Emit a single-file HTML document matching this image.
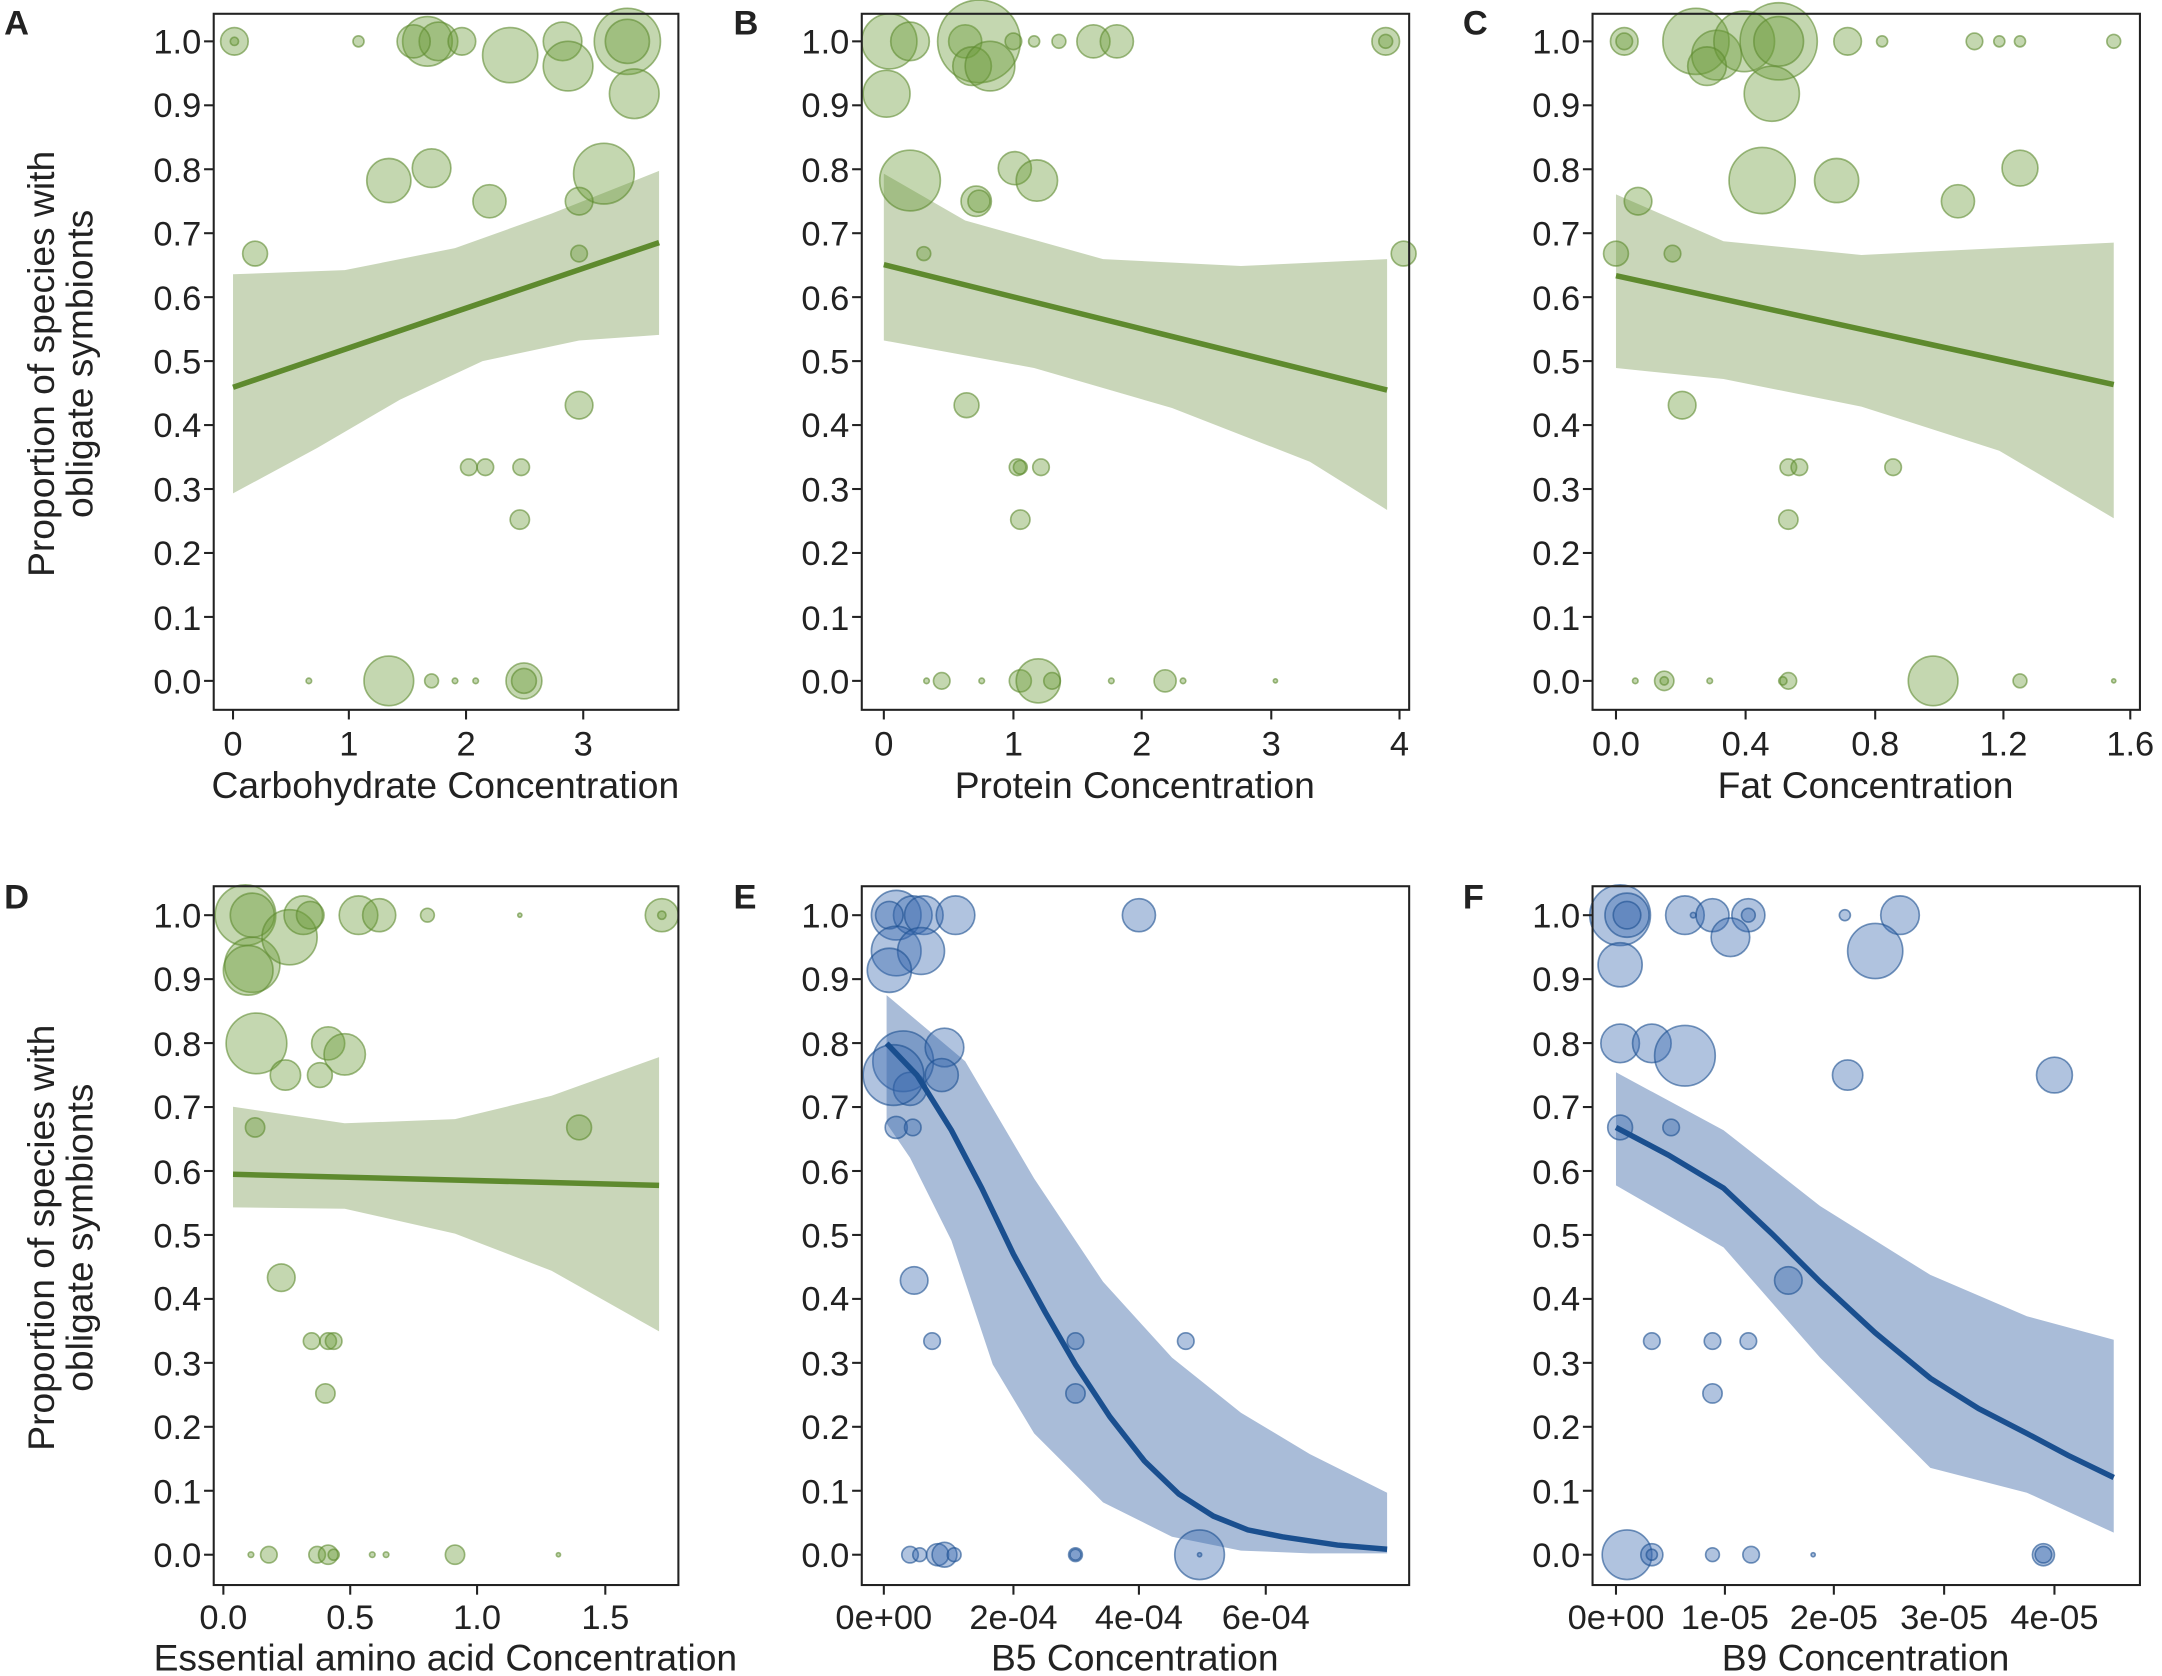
<!DOCTYPE html>
<html><head><meta charset="utf-8">
<style>
html,body{margin:0;padding:0;background:#fff;}
svg{display:block;}
text{font-family:"Liberation Sans",sans-serif;fill:#222;}
</style></head>
<body>
<svg id="s" width="2162" height="1676" viewBox="0 0 1568 1216" preserveAspectRatio="none" xmlns="http://www.w3.org/2000/svg">
<rect width="1568" height="1216" fill="#fff"/>
<polygon fill="#c9d6b9" points="169,199 250,196 330,180 400,155 478,124 478,243 420,247 350,262 290,290 230,325 169,358"/>
<polygon fill="#c9d6b9" points="641,126 700,160 800,188 900,193 1006,188 1006,370 950,335 850,296 750,267 641,247"/>
<polygon fill="#c9d6b9" points="1172,141 1250,175 1350,185 1450,180 1533,176 1533,376 1450,327 1350,295 1250,275 1172,267"/>
<polygon fill="#c9d6b9" points="169,803 250,815 330,812 400,795 478,767 478,966 400,922 330,895 250,877 169,876"/>
<polygon fill="#a9bcd8" points="643,722 700,770 750,855 800,930 850,985 900,1025 950,1055 1006,1083 1006,1127 950,1127 900,1125 850,1115 800,1090 750,1040 720,990 690,900 660,840 643,815"/>
<polygon fill="#a9bcd8" points="1172,778 1250,820 1320,875 1400,925 1470,955 1533,972 1533,1112 1470,1083 1400,1065 1320,985 1250,905 1172,860"/>
<g id="pts"></g>
<g fill="none" stroke-width="4">
<line x1="169" y1="281" x2="478" y2="176" stroke="#5e8a2e"/>
<line x1="641" y1="192" x2="1006" y2="283" stroke="#5e8a2e"/>
<line x1="1172" y1="200" x2="1533" y2="279" stroke="#5e8a2e"/>
<line x1="169" y1="852" x2="478" y2="860" stroke="#5e8a2e"/>
<polyline stroke="#1a4f8f" points="643,757 665,780 690,820 712,862 735,910 758,952 780,990 805,1028 830,1060 855,1084 880,1100 905,1110 930,1115 970,1121 1006,1124"/>
<polyline stroke="#1a4f8f" points="1172,818 1210,838 1250,862 1285,895 1320,930 1360,967 1400,1000 1435,1022 1470,1040 1500,1056 1533,1072"/>
</g>
<g fill="none" stroke="#222" stroke-width="1.5">
<rect x="155" y="10" width="337" height="505"/>
<rect x="625" y="10" width="397" height="505"/>
<rect x="1155" y="10" width="397" height="505"/>
<rect x="155" y="643" width="337" height="507"/>
<rect x="625" y="643" width="397" height="507"/>
<rect x="1155" y="643" width="397" height="507"/>
</g>
<g id="ticks" stroke="#222" stroke-width="1.5"></g>
<g font-size="25" text-anchor="middle">
<text x="169" y="548">0</text><text x="253" y="548">1</text><text x="338" y="548">2</text><text x="423" y="548">3</text>
<text x="641" y="548">0</text><text x="735" y="548">1</text><text x="828" y="548">2</text><text x="922" y="548">3</text><text x="1015" y="548">4</text>
<text x="1172" y="548">0.0</text><text x="1266" y="548">0.4</text><text x="1360" y="548">0.8</text><text x="1453" y="548">1.2</text><text x="1545" y="548">1.6</text>
<text x="162" y="1182">0.0</text><text x="254" y="1182">0.5</text><text x="346" y="1182">1.0</text><text x="439" y="1182">1.5</text>
<text x="641" y="1182">0e+00</text><text x="735" y="1182">2e-04</text><text x="826" y="1182">4e-04</text><text x="918" y="1182">6e-04</text>
<text x="1172" y="1182">0e+00</text><text x="1251" y="1182">1e-05</text><text x="1330" y="1182">2e-05</text><text x="1410" y="1182">3e-05</text><text x="1490" y="1182">4e-05</text>
</g>
<g font-size="27" text-anchor="middle">
<text x="323" y="579">Carbohydrate Concentration</text>
<text x="823" y="579">Protein Concentration</text>
<text x="1353" y="579">Fat Concentration</text>
<text x="323" y="1212">Essential amino acid Concentration</text>
<text x="823" y="1212">B5 Concentration</text>
<text x="1353" y="1212">B9 Concentration</text>
<text transform="translate(39,264) rotate(-90)">Proportion of species with</text>
<text transform="translate(67,264) rotate(-90)">obligate symbionts</text>
<text transform="translate(39,898) rotate(-90)">Proportion of species with</text>
<text transform="translate(67,898) rotate(-90)">obligate symbionts</text>
</g>
<g font-size="25" font-weight="bold">
<text x="3" y="25">A</text><text x="532" y="25">B</text><text x="1061" y="25">C</text>
<text x="3" y="659">D</text><text x="532" y="659">E</text><text x="1061" y="659">F</text>
</g>
<g font-size="25" text-anchor="end">
<text x="146" y="39">1.0</text><text x="146" y="85">0.9</text><text x="146" y="132">0.8</text><text x="146" y="178">0.7</text><text x="146" y="225">0.6</text><text x="146" y="271">0.5</text><text x="146" y="317">0.4</text><text x="146" y="364">0.3</text><text x="146" y="410">0.2</text><text x="146" y="457">0.1</text><text x="146" y="503">0.0</text>
<text x="616" y="39">1.0</text><text x="616" y="85">0.9</text><text x="616" y="132">0.8</text><text x="616" y="178">0.7</text><text x="616" y="225">0.6</text><text x="616" y="271">0.5</text><text x="616" y="317">0.4</text><text x="616" y="364">0.3</text><text x="616" y="410">0.2</text><text x="616" y="457">0.1</text><text x="616" y="503">0.0</text>
<text x="1146" y="39">1.0</text><text x="1146" y="85">0.9</text><text x="1146" y="132">0.8</text><text x="1146" y="178">0.7</text><text x="1146" y="225">0.6</text><text x="1146" y="271">0.5</text><text x="1146" y="317">0.4</text><text x="1146" y="364">0.3</text><text x="1146" y="410">0.2</text><text x="1146" y="457">0.1</text><text x="1146" y="503">0.0</text>
<text x="146" y="673">1.0</text><text x="146" y="719">0.9</text><text x="146" y="766">0.8</text><text x="146" y="812">0.7</text><text x="146" y="859">0.6</text><text x="146" y="905">0.5</text><text x="146" y="951">0.4</text><text x="146" y="998">0.3</text><text x="146" y="1044">0.2</text><text x="146" y="1091">0.1</text><text x="146" y="1137">0.0</text>
<text x="616" y="673">1.0</text><text x="616" y="719">0.9</text><text x="616" y="766">0.8</text><text x="616" y="812">0.7</text><text x="616" y="859">0.6</text><text x="616" y="905">0.5</text><text x="616" y="951">0.4</text><text x="616" y="998">0.3</text><text x="616" y="1044">0.2</text><text x="616" y="1091">0.1</text><text x="616" y="1137">0.0</text>
<text x="1146" y="673">1.0</text><text x="1146" y="719">0.9</text><text x="1146" y="766">0.8</text><text x="1146" y="812">0.7</text><text x="1146" y="859">0.6</text><text x="1146" y="905">0.5</text><text x="1146" y="951">0.4</text><text x="1146" y="998">0.3</text><text x="1146" y="1044">0.2</text><text x="1146" y="1091">0.1</text><text x="1146" y="1137">0.0</text>
</g>
</svg>
<script>
var NS="http://www.w3.org/2000/svg";
var G=[[170,30,10],[170,30,3],[260,30,4],[310,30,18],[318,30,14],[300,30,12],[335,30,10],[370,40,20],[408,30,14],[412,48,18],[455,30,24],[455,30,16],[460,68,18],[185,184,9],[282,131,16],[313,122,14],[355,146,12],[438,126,22],[420,146,10],[420,184,6],[420,294,10],[340,339,6],[352,339,6],[378,339,6],[377,377,7],[224,494,2],[282,494,18],[313,494,5],[330,494,2],[380,494,13],[380,494,9],[345,494,2],
[645,30,20],[660,30,14],[700,30,12],[710,30,30],[705,48,14],[718,48,18],[735,30,6],[750,30,4],[768,30,5],[793,30,12],[810,30,12],[1005,30,10],[1005,30,5],[643,68,17],[660,131,22],[708,146,11],[710,146,8],[736,122,12],[752,131,15],[670,184,5],[701,294,9],[738,339,6],[740,339,5],[755,339,6],[740,377,7],[1018,184,9],[683,494,6],[672,494,2],[712,494,2],[740,494,8],[753,494,16],[763,494,6],[806,494,2],[845,494,8],[858,494,2],[925,494,1],
[1178,30,10],[1178,30,6],[1230,30,24],[1245,40,18],[1265,30,22],[1290,30,28],[1290,30,18],[1285,68,20],[1238,48,14],[1340,30,10],[1365,30,4],[1432,30,6],[1450,30,4],[1465,30,4],[1533,30,5],[1188,146,10],[1172,184,9],[1213,184,6],[1278,131,24],[1332,131,16],[1420,146,12],[1465,122,13],[1220,294,10],[1297,339,6],[1305,339,6],[1373,339,6],[1297,377,7],[1207,494,7],[1207,494,3],[1186,494,2],[1240,494,2],[1297,494,6],[1293,494,3],[1402,494,18],[1465,494,5],[1533,494,1],
[178,664,22],[183,664,16],[183,700,20],[210,680,20],[220,664,14],[225,664,10],[260,664,14],[275,664,12],[310,664,5],[377,664,1],[480,664,12],[480,664,3],[180,704,18],[186,757,22],[207,780,11],[238,757,12],[250,765,15],[232,780,9],[185,818,7],[420,818,9],[204,927,10],[226,973,6],[238,973,6],[242,973,6],[236,1011,7],[195,1128,6],[182,1128,2],[230,1128,6],[238,1128,7],[242,1128,4],[270,1128,2],[280,1128,2],[330,1128,7],[405,1128,1]];
var B=[[650,664,18],[662,664,14],[645,664,10],[670,664,14],[693,664,14],[650,690,18],[668,690,17],[645,704,16],[826,664,12],[655,770,22],[660,790,12],[648,780,22],[685,760,14],[683,780,12],[650,818,8],[662,818,6],[663,929,10],[676,973,6],[780,973,6],[780,1011,7],[860,973,6],[660,1128,6],[667,1128,5],[680,1128,8],[685,1128,9],[692,1128,5],[780,1128,5],[780,1128,4],[870,1128,18],[870,1128,1],
[1175,664,22],[1180,664,16],[1180,664,10],[1175,700,16],[1222,664,14],[1242,664,12],[1268,664,12],[1268,664,5],[1255,680,14],[1228,664,2],[1338,664,4],[1378,664,14],[1360,690,20],[1175,757,14],[1198,757,14],[1222,766,22],[1340,780,11],[1490,780,13],[1175,818,9],[1212,818,6],[1297,929,10],[1198,973,6],[1242,973,6],[1268,973,6],[1242,1011,7],[1180,1128,18],[1198,1128,8],[1198,1128,4],[1242,1128,5],[1270,1128,6],[1315,1128,1],[1482,1128,8],[1482,1128,6]];
var pts=document.getElementById("pts");
function add(a,f,s){a.forEach(function(p){var c=document.createElementNS(NS,"circle");c.setAttribute("cx",p[0]);c.setAttribute("cy",p[1]);c.setAttribute("r",Math.max(p[2],1.5));c.setAttribute("fill",f);c.setAttribute("fill-opacity","0.4");c.setAttribute("stroke",s);c.setAttribute("stroke-opacity","0.6");c.setAttribute("stroke-width","1.2");pts.appendChild(c);});}
add(G,"#6b9a3a","#5e8a2e");add(B,"#3a68b0","#1a4f8f");
var tk=document.getElementById("ticks");
function ln(x1,y1,x2,y2){var l=document.createElementNS(NS,"line");l.setAttribute("x1",x1);l.setAttribute("y1",y1);l.setAttribute("x2",x2);l.setAttribute("y2",y2);tk.appendChild(l);}
[[155,30],[625,30],[1155,30],[155,664],[625,664],[1155,664]].forEach(function(p){for(var i=0;i<=10;i++){var y=p[1]+i*46.4;ln(p[0]-7,y,p[0],y);}});
var xt=[[169,253,338,423],[641,735,828,922,1015],[1172,1266,1360,1453,1545]],xt2=[[162,254,346,439],[641,735,826,918],[1172,1251,1330,1410,1490]];
xt.forEach(function(a){a.forEach(function(x){ln(x,515,x,522);});});
xt2.forEach(function(a){a.forEach(function(x){ln(x,1150,x,1157);});});
</script>
</body></html>
